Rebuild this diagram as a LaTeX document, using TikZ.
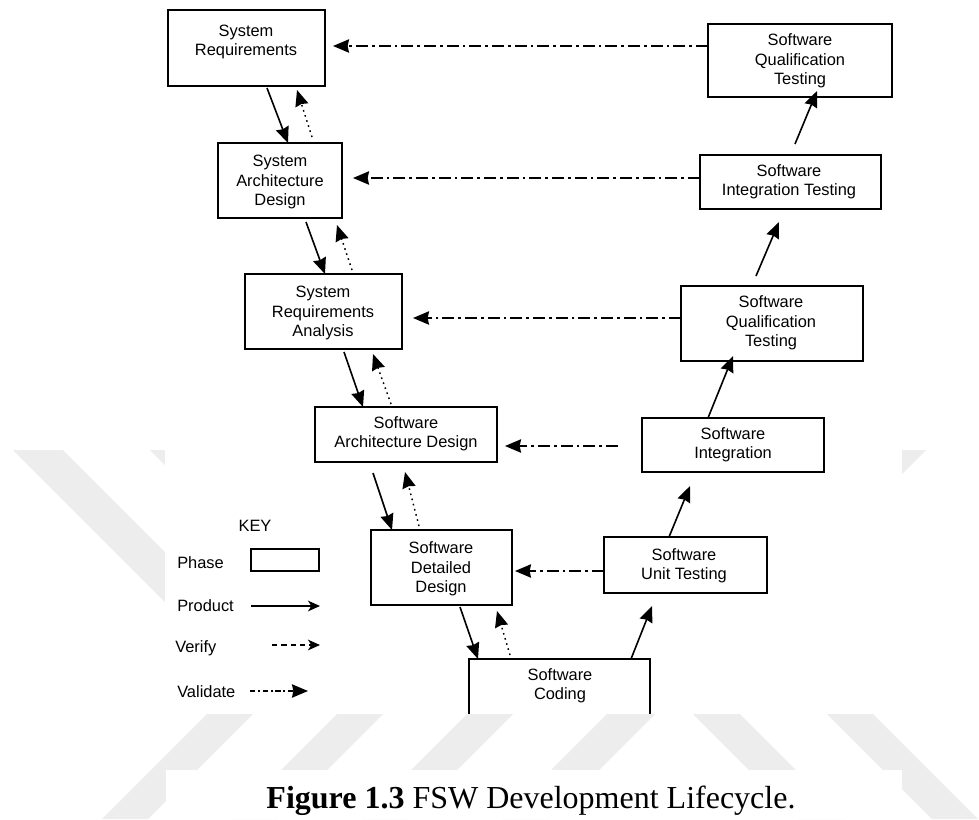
\documentclass[tikz,border=0pt]{standalone}
\usepackage{fontspec}
\setmainfont{Liberation Sans}
\newfontfamily\capfont{Liberation Serif}
\usetikzlibrary{arrows.meta,calc}
\definecolor{wm}{RGB}{237,237,237}
\begin{document}
\begin{tikzpicture}[x=0.75pt,y=-0.75pt,
  phase/.style={draw, line width=1.4pt, inner sep=0pt, outer sep=0pt},
  lbl/.style={align=center, font=\fontsize{12.3}{14.5}\selectfont, inner sep=0pt},
  keytxt/.style={anchor=west, font=\fontsize{12.3}{14.5}\selectfont, inner sep=0pt},
  tipA/.style={-{Stealth[length=12pt,width=10pt,inset=1pt]}},
  tipB/.style={-{Stealth[length=9pt,width=8pt,inset=2.5pt]}},
  prod/.style={line width=1.2pt, tipA},
  verif/.style={line width=1.1pt, dash pattern=on 1.2pt off 2.8pt, tipA},
  valid/.style={line width=1.1pt, dash pattern=on 9pt off 3pt on 2pt off 3pt, tipA},
]
\useasboundingbox (0,0) rectangle (979,819);
\fill[white] (0,0) rectangle (979,819);
% watermark
\fill[wm] (221,700) -- (267,700) -- (148,819) -- (102,819) -- cycle;
\fill[wm] (351,700) -- (397,700) -- (278,819) -- (232,819) -- cycle;
\fill[wm] (481,700) -- (527,700) -- (408,819) -- (362,819) -- cycle;
\fill[wm] (621,700) -- (669,700) -- (550,819) -- (502,819) -- cycle;
\fill[wm] (679,700) -- (726,700) -- (845,819) -- (798,819) -- cycle;
\fill[wm] (813,700) -- (859,700) -- (978,819) -- (932,819) -- cycle;
\fill[wm] (13,450) -- (63,450) -- (233,620) -- (183,620) -- cycle;
\fill[wm] (150,450) -- (196,450) -- (300,554) -- (254,554) -- cycle;
\fill[wm] (880,450) -- (926,450) -- (800,576) -- (754,576) -- cycle;
\fill[white] (165,0) rectangle (902,714);
\fill[white] (166,770) rectangle (902,819);

% phase boxes
\node[phase, minimum width=117.75pt, minimum height=57pt] (sr) at (246.5,48) {};
\node[phase, minimum width=93pt, minimum height=56.25pt] (sad) at (280,180.5) {};
\node[phase, minimum width=117.75pt, minimum height=56.25pt] (sra) at (323.5,311.5) {};
\node[phase, minimum width=136.5pt, minimum height=41.25pt] (swad) at (406,434.5) {};
\node[phase, minimum width=105.75pt, minimum height=56.25pt] (sdd) at (441.5,567.5) {};
\node[inner sep=0pt, outer sep=0pt, minimum width=135.75pt, minimum height=41.25pt] (sc) at (559.5,686.5) {};
\draw[line width=1.4pt] (sc.south west) |- (sc.north east) -- (sc.south east);
\node[phase, minimum width=122.25pt, minimum height=42pt] (sut) at (685.5,565) {};
\node[phase, minimum width=136.5pt, minimum height=40.5pt] (si) at (733,445) {};
\node[phase, minimum width=136.5pt, minimum height=56.25pt] (sqtb) at (772,323.5) {};
\node[phase, minimum width=135.75pt, minimum height=40.5pt] (sit) at (790.5,182) {};
\node[phase, minimum width=138pt, minimum height=54.75pt] (sqta) at (800,60.5) {};

% texts
\node[lbl] (srt) at (246,42) {System\\Requirements};
\node[lbl] (sadt) at (280,182) {System\\Architecture\\Design};
\node[lbl] (srat) at (323,313) {System\\Requirements\\Analysis};
\node[lbl] (swadt) at (406,434) {Software\\Architecture Design};
\node[lbl] (sddt) at (441,569) {Software\\Detailed\\Design};
\node[lbl] (sct) at (560,686) {Software\\Coding};
\node[lbl] (sutt) at (684,566) {Software\\Unit Testing};
\node[lbl] (sit2) at (733,445) {Software\\Integration};
\node[lbl] (sqtbt) at (771,323) {Software\\Qualification\\Testing};
\node[lbl] (sitt) at (789,182) {Software\\Integration Testing};
\node[lbl] (sqtat) at (800,61) {Software\\Qualification\\Testing};

% product arrows
\draw[prod] ($(sr.south west)+(99,2)$) -- ($(sad.north west)+(70,0)$);
\draw[prod] ($(sad.south west)+(88,4)$) -- ($(sra.north west)+(80,0)$);
\draw[prod] ($(sra.south west)+(99,3)$) -- ($(swad.north west)+(48,0)$);
\draw[prod] ($(swad.south west)+(58,11)$) -- ($(sdd.north west)+(21,0)$);
\draw[prod] ($(sdd.south west)+(89,2)$) -- ($(sc.north west)+(9,0)$);
\draw[prod] ($(sc.north west)+(162,0)$) -- ($(sut.south west)+(48,13)$);
\draw[prod] ($(sut.north west)+(65,0)$) -- ($(si.south west)+(48,14)$);
\draw[prod] ($(si.north west)+(66,0)$) -- ($(sqtb.south west)+(52,-5)$);
\draw[prod] ($(sqtb.north west)+(75,-10)$) -- ($(sit.south west)+(79,13)$);
\draw[prod] ($(sit.north west)+(95,-11)$) -- ($(sqta.south west)+(109,-6)$);

% verify arrows
\draw[verif] ($(sad.north west)+(94,-6)$) -- ($(sr.south west)+(129,4)$);
\draw[verif] ($(sra.north west)+(107,-4)$) -- ($(sad.south west)+(119,7)$);
\draw[verif] ($(swad.north west)+(76,-3)$) -- ($(sra.south west)+(128,5)$);
\draw[verif] ($(sdd.north west)+(48,-4)$) -- ($(swad.south west)+(90,10)$);
\draw[verif] ($(sc.north west)+(41,-4)$) -- ($(sdd.south west)+(126,6)$);

% validate arrows
\draw[valid] ($(sqta.north west)+(0,22)$) -- ($(sr.north east)+(8,36)$);
\draw[valid] ($(sit.north west)+(0,23)$) -- ($(sad.north east)+(11,35)$);
\draw[valid] ($(sqtb.north west)+(0,32)$) -- ($(sra.north east)+(11,44)$);
\draw[valid] ($(si.north west)+(-24,28)$) -- ($(swad.north east)+(8,39)$);
\draw[valid] ($(sut.north west)+(0,34)$) -- ($(sdd.north east)+(3,41)$);

% key
\node[lbl] (key) at (255,526) {KEY};
\node[keytxt] (kphase) at (177,563) {Phase};
\node[phase, minimum width=51pt, minimum height=16.5pt] (kbox) at (285,560) {};
\node[keytxt] (kprod) at (177,606) {Product};
\node[keytxt] (kver) at (175,648) {Verify};
\node[keytxt] (kval) at (177,692) {Validate};
\coordinate (kp1) at (251,606);
\coordinate (kp2) at (320,606);
\coordinate (kv1) at (272,645);
\coordinate (kv2) at (320,645);
\coordinate (kd1) at (250,691);
\coordinate (kd2) at (308,691);
\draw[line width=1.1pt, tipB] (kp1) -- (kp2);
\draw[line width=1.1pt, dash pattern=on 4pt off 3pt, tipB] (kv1) -- (kv2);
\draw[line width=1.1pt, dash pattern=on 4pt off 2pt on 1.5pt off 2pt, tipA] (kd1) -- (kd2);

% caption
\node[anchor=base, inner sep=0pt] (cap) at (531,808) {\capfont\fontsize{24}{24}\selectfont\textbf{Figure 1.3} FSW Development Lifecycle.};
\end{tikzpicture}
\end{document}
